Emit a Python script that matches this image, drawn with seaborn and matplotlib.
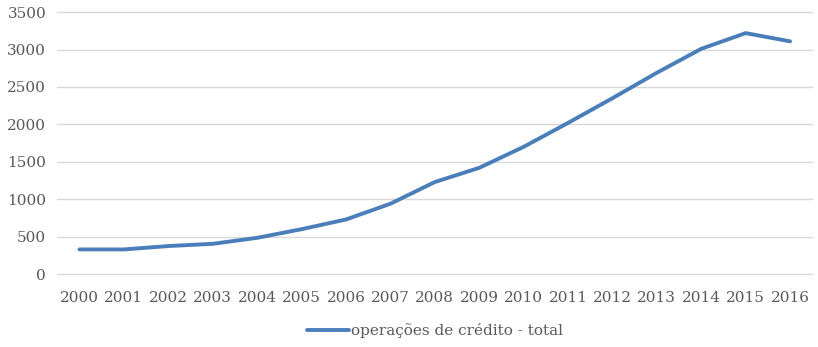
import matplotlib
matplotlib.use("Agg")
import matplotlib.pyplot as plt
import seaborn as sns
import pandas as pd

years = [str(y) for y in range(2000, 2017)]
credito_total = [330, 330, 375, 405, 485, 600, 730, 940, 1230, 1420,
                 1700, 2020, 2350, 2690, 3010, 3220, 3110]
series_name = "operações de crédito - total"
y_ticks = [0, 500, 1000, 1500, 2000, 2500, 3000, 3500]

df = pd.DataFrame({"ano": years, "valor": credito_total, "serie": series_name})

sns.set_theme(style="white")
plt.rcParams["font.family"] = ["DejaVu Serif"]
text_color = "#595959"

fig = plt.figure(figsize=(8.18, 3.47), dpi=100)
ax = fig.add_axes([0.070, 0.210, 0.923, 0.755])

sns.lineplot(data=df, x="ano", y="valor", hue="serie", palette=["#4A7EBB"],
             linewidth=2.8, ax=ax, sort=False)

ax.set_xlim(-0.5, len(years) - 0.5)
ax.set_ylim(0, 3500)
ax.set_yticks(y_ticks)
ax.grid(axis="y", color="#D9D9D9", linewidth=1)
for gl in ax.get_ygridlines():
    gl.set_clip_on(False)
ax.set_axisbelow(True)
for s in ax.spines.values():
    s.set_visible(False)
ax.set_xlabel("")
ax.set_ylabel("")
ax.tick_params(axis="both", length=0, labelsize=11, labelcolor=text_color)
ax.tick_params(axis="x", pad=12)
ax.tick_params(axis="y", pad=8)

leg = ax.legend(loc="upper center", bbox_to_anchor=(0.5, -0.135), frameon=False,
                fontsize=11, handlelength=2.8, handletextpad=0.1)
for t in leg.get_texts():
    t.set_color(text_color)

fig.savefig("out.png", dpi=100)
